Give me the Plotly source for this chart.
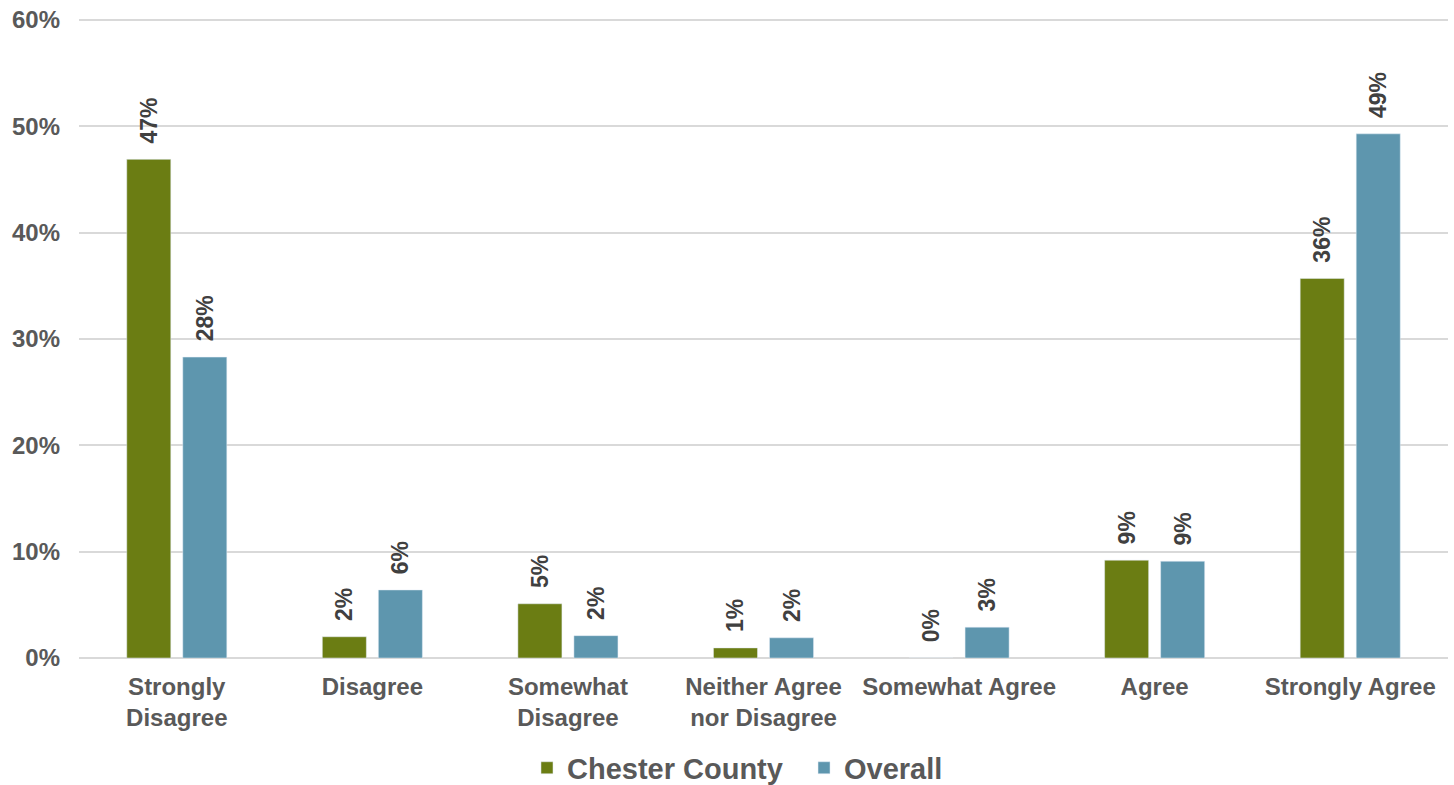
import plotly.graph_objects as go

categories = ["Strongly<br>Disagree", "Disagree", "Somewhat<br>Disagree",
              "Neither Agree<br>nor Disagree", "Somewhat Agree", "Agree", "Strongly Agree"]
chester = [47, 2, 5, 1, 0, 9, 36]
chester_plot = [46.9, 2.0, 5.1, 0.95, 0, 9.2, 35.7]
overall = [28, 6, 2, 2, 3, 9, 49]
overall_plot = [28.3, 6.4, 2.1, 1.9, 2.9, 9.1, 49.3]
series_names = ["Chester County\u00a0\u00a0", "Overall"]
colors = ["#6B7D13", "#5E96AE"]
y_ticks = [0, 10, 20, 30, 40, 50, 60]
y_tick_labels = ["0%", "10%", "20%", "30%", "40%", "50%", "60%"]

fig = go.Figure()
for name, vals, labels, col in [(series_names[0], chester_plot, chester, colors[0]),
                                 (series_names[1], overall_plot, overall, colors[1])]:
    fig.add_trace(go.Bar(
        x=categories, y=vals, name=name, marker_color=col,
        text=[f"\u00a0\u00a0{v}%" for v in labels], textposition="outside", textangle=-90,
        constraintext="none",
        textfont=dict(family="Liberation Sans, Arial", size=23, color="#404040", weight="bold"),
        cliponaxis=False,
    ))

fig.update_layout(
    width=1454, height=785,
    margin=dict(l=79, r=6, t=19, b=127, autoexpand=False),
    plot_bgcolor="white", paper_bgcolor="white",
    barmode="group", bargap=0.427, bargroupgap=0.214,
    font=dict(family="Liberation Sans, Arial", color="#595959"),
    legend=dict(orientation="h", x=0.481, xanchor="center", xref="paper",
                y=-0.172, yanchor="middle",
                font=dict(size=29, color="#595959", weight="bold"),
                itemwidth=30),
)
fig.update_yaxes(range=[0, 60.1], tickmode="array", tickvals=y_ticks, ticktext=y_tick_labels,
                 showgrid=True,
                 gridcolor="#D9D9D9", gridwidth=2, zeroline=True, zerolinecolor="#D9D9D9",
                 zerolinewidth=2, ticks="", showline=False, automargin=False,
                 ticklabelstandoff=18,
                 tickfont=dict(size=24, color="#595959", weight="bold"))
fig.update_xaxes(showline=False, ticks="", automargin=False, ticklabelstandoff=12,
                 tickfont=dict(size=24, color="#595959", weight="bold"))

fig.write_html("out.html", config={"displayModeBar": False},
               post_script="document.body.style.margin='0';document.body.style.padding='0';")
